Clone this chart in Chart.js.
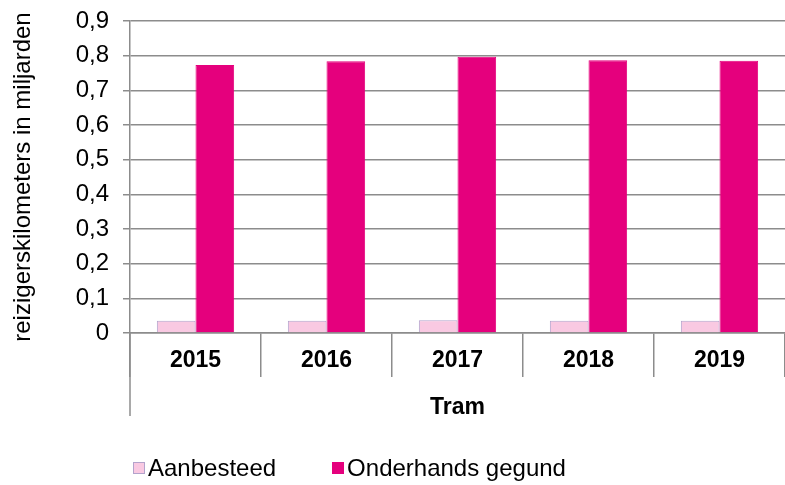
<!DOCTYPE html>
<html>
<head>
<meta charset="utf-8">
<script src="https://cdn.jsdelivr.net/npm/chart.js@4/dist/chart.umd.min.js"></script>
<style>
    html, body { margin: 0; padding: 0; background: #fff; }
    #wrap { position: relative; width: 785px; height: 485px; }
    #legend {
        position: absolute; left: 133px; top: 454px;
        font-family: "Liberation Sans", Arial, sans-serif; font-size: 24px; color: #000;
        display: flex; align-items: center;
    }
    .item { display: flex; align-items: center; margin-right: 56px; }
    .box { width: 12px; height: 12px; margin-right: 3px; box-sizing: border-box; }
</style>
</head>
<body>
<div id="wrap">
    <canvas id="chart" width="785" height="485"></canvas>
    <div id="legend"></div>
</div>
<script>
const years = ['2015', '2016', '2017', '2018', '2019'];
const aanbesteed = [0.035, 0.035, 0.037, 0.035, 0.035];
const onderhands = [0.773, 0.784, 0.797, 0.787, 0.785];
const yTicks = [0, 0.1, 0.2, 0.3, 0.4, 0.5, 0.6, 0.7, 0.8, 0.9];

const FONT = '"Liberation Sans", Arial, sans-serif';
const GRID = '#8c8c8c';

const series = [
    { label: 'Aanbesteed', data: aanbesteed, fill: '#f9c9e2', border: '#b3a3cc' },
    { label: 'Onderhands gegund', data: onderhands, fill: '#e5007d', border: '#e5007d' }
];

// left axis line runs down past the category row to the group label
const axisExtension = {
    id: 'axisExtension',
    afterDraw(chart) {
        const { ctx, chartArea } = chart;
        const x = chart.scales.x;
        ctx.save();
        ctx.strokeStyle = GRID;
        ctx.lineWidth = 1.5;
        ctx.beginPath();
        ctx.moveTo(chartArea.left, chartArea.bottom);
        ctx.lineTo(chartArea.left, x.bottom - 5);
        ctx.stroke();
        ctx.restore();
    }
};

new Chart(document.getElementById('chart'), {
    type: 'bar',
    data: {
        labels: years,
        datasets: series.map(s => ({
            label: s.label,
            data: s.data,
            backgroundColor: s.fill,
            borderColor: s.border,
            borderWidth: 1,
            categoryPercentage: 0.59,
            barPercentage: 1
        }))
    },
    options: {
        responsive: false,
        animation: false,
        layout: { padding: { top: 0, right: 0, bottom: 64, left: 0 } },
        plugins: {
            legend: { display: false },
            tooltip: { enabled: false }
        },
        scales: {
            x: {
                grid: { offset: true, drawOnChartArea: false, color: GRID, lineWidth: 1.5, tickLength: 44 },
                border: { color: GRID, width: 1.5 },
                ticks: { color: '#000', font: { family: FONT, size: 23, weight: 'bold' }, padding: -30 },
                title: { display: true, text: 'Tram', color: '#000', font: { family: FONT, size: 23, weight: 'bold' }, padding: { top: 0, bottom: 0 } },
                afterFit(scale) { scale.height = 88; }
            },
            y: {
                min: 0,
                max: 0.9,
                afterBuildTicks(scale) { scale.ticks = yTicks.map(v => ({ value: v })); },
                grid: { color: GRID, lineWidth: 1.5, tickLength: 7 },
                border: { color: GRID, width: 1.5 },
                ticks: {
                    color: '#000',
                    font: { family: FONT, size: 24 },
                    padding: 14,
                    callback: v => v === 0 ? '0' : v.toFixed(1).replace('.', ',')
                },
                title: { display: true, text: 'reizigerskilometers in miljarden', color: '#000', font: { family: FONT, size: 24 }, padding: { top: 9, bottom: 0 } },
                afterFit(scale) {
                    scale.width = 130;
                    scale.paddingTop = 21;
                }
            }
        }
    },
    plugins: [axisExtension]
});

const legend = document.getElementById('legend');
series.forEach(s => {
    const item = document.createElement('div');
    item.className = 'item';
    item.innerHTML = `<span class="box" style="background:${s.fill};border:1px solid ${s.border}"></span><span>${s.label}</span>`;
    legend.appendChild(item);
});
</script>
</body>
</html>
